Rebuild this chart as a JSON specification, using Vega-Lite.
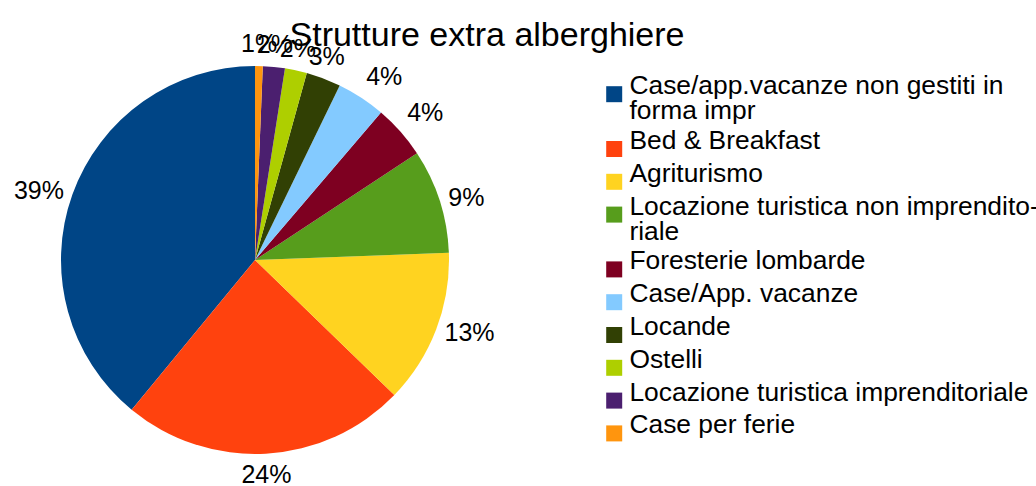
{
  "$schema": "https://vega.github.io/schema/vega-lite/v6.json",
  "width": 510,
  "height": 388,
  "autosize": {"type": "none"},
  "padding": {"left": 0, "top": 66, "right": 526, "bottom": 32},
  "background": "white",
  "title": {
    "text": "Strutture extra alberghiere",
    "fontSize": 34,
    "font": "Liberation Sans",
    "fontWeight": "normal",
    "color": "black",
    "anchor": "middle",
    "dx": 232,
    "dy": 31,
    "offset": 10
  },
  "data": {
    "values": [
      {"idx": 1, "tipo": "Case/app.vacanze non gestiti in forma impr", "share": 0.3903},
      {"idx": 2, "tipo": "Bed & Breakfast", "share": 0.2372},
      {"idx": 3, "tipo": "Agriturismo", "share": 0.1283},
      {"idx": 4, "tipo": "Locazione turistica non imprenditoriale", "share": 0.0869},
      {"idx": 5, "tipo": "Foresterie lombarde", "share": 0.0447},
      {"idx": 6, "tipo": "Case/App. vacanze", "share": 0.0406},
      {"idx": 7, "tipo": "Locande", "share": 0.0289},
      {"idx": 8, "tipo": "Ostelli", "share": 0.0183},
      {"idx": 9, "tipo": "Locazione turistica imprenditoriale", "share": 0.0183},
      {"idx": 10, "tipo": "Case per ferie", "share": 0.0064}
    ]
  },
  "encoding": {
    "theta": {"field": "share", "type": "quantitative", "stack": true},
    "order": {"field": "idx", "type": "quantitative", "sort": "descending"}
  },
  "layer": [
    {
      "mark": {"type": "arc", "outerRadius": 194},
      "encoding": {
        "color": {
          "field": "tipo",
          "type": "nominal",
          "scale": {
            "domain": ["Case/app.vacanze non gestiti in forma impr", "Bed & Breakfast", "Agriturismo", "Locazione turistica non imprenditoriale", "Foresterie lombarde", "Case/App. vacanze", "Locande", "Ostelli", "Locazione turistica imprenditoriale", "Case per ferie"],
            "range": ["#004586", "#ff420e", "#ffd320", "#579d1c", "#7e0021", "#83caff", "#314004", "#aecf00", "#4b1f6f", "#ff950e"]
          },
          "legend": {
            "title": null,
            "orient": "none",
            "legendX": 601,
            "legendY": 15,
            "padding": 0,
            "symbolType": "square",
            "symbolSize": 256,
            "symbolStrokeWidth": 0,
            "symbolOpacity": 1,
            "labelFontSize": 26.4,
            "labelFont": "Liberation Sans",
            "labelColor": "black",
            "labelLimit": 0,
            "labelOffset": 2,
            "labelBaseline": "alphabetic",
            "rowPadding": 2.8,
            "labelExpr": "datum.label == 'Case/app.vacanze non gestiti in forma impr' ? ['Case/app.vacanze non gestiti in', 'forma impr'] : datum.label == 'Locazione turistica non imprenditoriale' ? ['Locazione turistica non imprendito-', 'riale'] : datum.label"
          }
        }
      }
    },
    {
      "mark": {"type": "text", "radius": 203, "fontSize": 25, "color": "black", "font": "Liberation Sans", "align": "center", "baseline": "bottom"},
      "encoding": {
        "text": {"field": "share", "type": "quantitative", "format": ".0%"},
        "opacity": {"condition": {"test": "datum.idx >= 7", "value": 1}, "value": 0}
      }
    },
    {
      "mark": {"type": "text", "radius": 203, "fontSize": 25, "color": "black", "font": "Liberation Sans", "align": "left", "baseline": "bottom"},
      "encoding": {
        "text": {"field": "share", "type": "quantitative", "format": ".0%"},
        "opacity": {"condition": {"test": "datum.idx == 5 || datum.idx == 6", "value": 1}, "value": 0}
      }
    },
    {
      "mark": {"type": "text", "radius": 203, "fontSize": 25, "color": "black", "font": "Liberation Sans", "align": "left", "baseline": "middle"},
      "encoding": {
        "text": {"field": "share", "type": "quantitative", "format": ".0%"},
        "opacity": {"condition": {"test": "datum.idx == 3 || datum.idx == 4", "value": 1}, "value": 0}
      }
    },
    {
      "mark": {"type": "text", "radius": 203, "fontSize": 25, "color": "black", "font": "Liberation Sans", "align": "center", "baseline": "top"},
      "encoding": {
        "text": {"field": "share", "type": "quantitative", "format": ".0%"},
        "opacity": {"condition": {"test": "datum.idx == 2", "value": 1}, "value": 0}
      }
    },
    {
      "mark": {"type": "text", "radius": 203, "fontSize": 25, "color": "black", "font": "Liberation Sans", "align": "right", "baseline": "middle"},
      "encoding": {
        "text": {"field": "share", "type": "quantitative", "format": ".0%"},
        "opacity": {"condition": {"test": "datum.idx == 1", "value": 1}, "value": 0}
      }
    }
  ],
  "config": {
    "view": {"stroke": null},
    "font": "Liberation Sans",
    "style": {"guide-label": {"lineHeight": 25}}
  }
}
